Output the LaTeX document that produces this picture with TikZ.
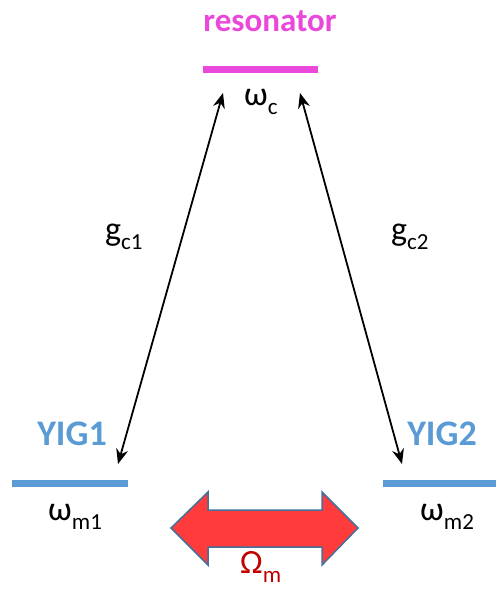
\documentclass[tikz,border=0pt]{standalone}
\usepackage{fontspec}
\setmainfont{Carlito}
\usetikzlibrary{arrows.meta}
\definecolor{resmag}{RGB}{234,72,218}
\definecolor{yigblue}{RGB}{91,155,213}
\definecolor{omred}{RGB}{192,0,0}
\definecolor{bigred}{RGB}{255,59,59}
\definecolor{bigedge}{RGB}{65,113,156}
\newcommand{\lblsub}[1]{\raisebox{-0.28em}{\fontsize{23}{27}\selectfont #1}}
\tikzset{
  lbl/.style={inner sep=0pt, font=\fontsize{34}{40}\selectfont},
  title/.style={inner sep=0pt, font=\fontsize{33}{40}\selectfont\bfseries},
  ytitle/.style={inner sep=0pt, font=\fontsize{36}{42}\selectfont\bfseries},
  level/.style={line width=7pt},
  coup/.style={line width=1.8pt, {Stealth[length=15pt,width=12pt]}-{Stealth[length=15pt,width=12pt]}},
}
\begin{document}
\begin{tikzpicture}[x=1pt,y=-1pt]
\useasboundingbox (0,0) rectangle (496,589);
% resonator
\node[title, text=resmag] (restxt) at (270,21) {resonator};
\draw[level, resmag] (203,69) -- (318,69);
\node[lbl, anchor=base west] (wc) at (244,105) {ω\lblsub{c}};
% YIG levels
\node[ytitle, text=yigblue] (yig1) at (72,434) {YIG1};
\node[ytitle, text=yigblue] (yig2) at (442,434) {YIG2};
\draw[level, yigblue] (12,483) -- (128,483);
\draw[level, yigblue] (383,483) -- (496,483);
\node[lbl, anchor=base west] (wm1) at (48,520) {ω\lblsub{m1}};
\node[lbl, anchor=base west] (wm2) at (420,520) {ω\lblsub{m2}};
% couplings
\coordinate (t1) at (223,93);
\coordinate (b1) at (118,464);
\coordinate (t2) at (300,93);
\coordinate (b2) at (402,464);
\draw[coup] (t1) -- (b1);
\draw[coup] (t2) -- (b2);
\node[lbl, anchor=base west] (gc1) at (105,240) {g\lblsub{c1}};
\node[lbl, anchor=base west] (gc2) at (391,240) {g\lblsub{c2}};
% big double arrow
\draw[fill=bigred, draw=bigedge, line width=1.5pt, line join=miter]
  (171,528) -- (208,492) -- (208,510) -- (322,510) -- (322,492) -- (358,528)
  -- (322,565) -- (322,547) -- (208,547) -- (208,565) -- cycle;
\node[lbl, anchor=base west, text=omred] (Om) at (240,573) {Ω\lblsub{m}};
\end{tikzpicture}
\end{document}
